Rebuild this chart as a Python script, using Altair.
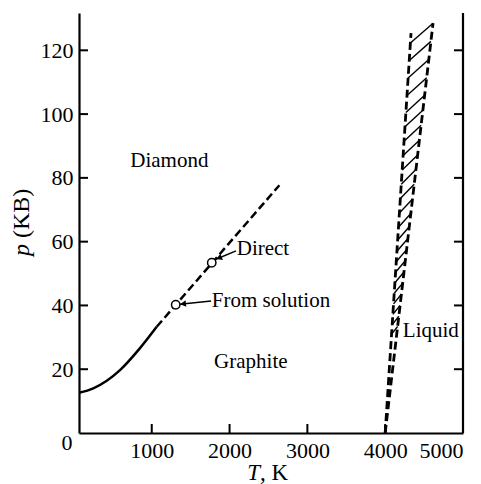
import altair as alt
import numpy as np
import pandas as pd

W, H = 384, 420
FONT = "Liberation Serif"
T_DOMAIN = [65, 5000]
P_DOMAIN = [0, 131.7]

# graphite/diamond boundary
solid_T = [65, 249, 592, 849, 1064]
solid_p = [12.6, 14.0, 19.7, 26.6, 33.3]
dash_T = [1064, 2640]
dash_p = [33.3, 77.7]
# experimental points
pts_T = [1308, 1771]
pts_p = [40.2, 53.4]
# melting boundaries
liqL_T = [4000, 4332]
liqL_p = [0, 125.4]
liqR_T = [4000, 4615]
liqR_p = [0, 128.5]
# hatch strokes (left-end pressure, rise to right boundary)
hatch_p = [122.3, 116.8, 111.3, 105.8, 100.5, 96.0, 91.5, 87.0, 82.5, 78.0, 73.5,
           69.0, 64.5, 60.5, 57.0, 53.7, 50.4, 47.1, 43.8, 40.5, 37.2, 34.0, 31.0]
hatch_rise = [6.2, 6.0, 5.8, 5.6, 5.4, 5.2, 5.0, 4.8, 4.7, 4.6, 4.5,
              4.4, 4.3, 4.2, 4.0, 3.8, 3.6, 3.4, 3.2, 3.0, 2.8, 2.6, 2.4]
# region labels
reg_text = ["Diamond", "Graphite", "Liquid"]
reg_T = [1226, 2273, 4587]
reg_p = [83.5, 20.3, 30.2]
# annotations
ann_text = ["Direct", "From solution"]
ann_T = [2092, 1771]
ann_p = [55.8, 39.6]
arr_tail_T = [2083, 1762]
arr_tail_p = [57.1, 41.4]
arr_tip_T = [1826, 1363]
arr_tip_p = [54.5, 40.4]
arr_head_T = [1864, 1402]
arr_head_p = [54.9, 40.5]
arr_angle = [338, 354]
# ticks
x_ticks = [1000, 2000, 3000, 4000, 5000]
y_ticks = [20, 40, 60, 80, 100, 120]

xs = alt.Scale(domain=T_DOMAIN, nice=False, zero=False)
ys = alt.Scale(domain=P_DOMAIN, nice=False, zero=False)
x_axis = alt.Axis(values=x_ticks, title=None, ticks=False, labelPadding=7,
                  labelFont=FONT, labelFontSize=22, labelColor="black",
                  domainColor="black", domainWidth=2.2, grid=False, format="d")
y_axis = alt.Axis(values=y_ticks, title=None, ticks=False, labelPadding=6,
                  labelFont=FONT, labelFontSize=22, labelColor="black",
                  domainColor="black", domainWidth=2.2, grid=False, format="d")


def X(f):
    return alt.X(f, type="quantitative", scale=xs, axis=x_axis)


def Y(f):
    return alt.Y(f, type="quantitative", scale=ys, axis=y_axis)


solid_df = pd.DataFrame({"T": solid_T, "p": solid_p})
dash_df = pd.DataFrame({"T": dash_T, "p": dash_p})
pts_df = pd.DataFrame({"T": pts_T, "p": pts_p})
liq_df = pd.DataFrame({"T": liqL_T + liqR_T, "p": liqL_p + liqR_p,
                       "side": ["L"] * 2 + ["R"] * 2})
hp = np.array(hatch_p)
hr = hp + np.array(hatch_rise)
hatch_df = pd.DataFrame({
    "T1": np.interp(hp, liqL_p, liqL_T), "p1": hp,
    "T2": np.interp(hr, liqR_p, liqR_T), "p2": hr,
})
reg_df = pd.DataFrame({"t": reg_text, "T": reg_T, "p": reg_p})
ann_df = pd.DataFrame({"t": ann_text, "T": ann_T, "p": ann_p})
arr_df = pd.DataFrame({"T1": arr_tail_T, "p1": arr_tail_p, "T2": arr_tip_T, "p2": arr_tip_p})
head_df = pd.DataFrame({"T": arr_head_T, "p": arr_head_p, "a": arr_angle})
xt_df = pd.DataFrame({"T": x_ticks})
yt_df = pd.DataFrame({"p": y_ticks})

solid = alt.Chart(solid_df).mark_line(color="black", strokeWidth=2.5, interpolate="monotone").encode(
    x=X("T"), y=Y("p"))
dashed = alt.Chart(dash_df).mark_line(color="black", strokeWidth=2.5, strokeDash=[8, 4]).encode(
    x=X("T"), y=Y("p"))
liq = alt.Chart(liq_df).mark_line(color="black", strokeWidth=2.8, strokeDash=[8, 4]).encode(
    x=X("T"), y=Y("p"), detail="side:N")
hatch = alt.Chart(hatch_df).mark_rule(color="black", strokeWidth=1.4).encode(
    x=X("T1"), y=Y("p1"), x2="T2", y2="p2")
arrows = alt.Chart(arr_df).mark_rule(color="black", strokeWidth=1.5).encode(
    x=X("T1"), y=Y("p1"), x2="T2", y2="p2")
heads = alt.Chart(head_df).mark_point(shape="triangle-left", filled=True, color="black",
                                      size=45, opacity=1).encode(
    x=X("T"), y=Y("p"), angle=alt.Angle("a:Q", scale=None))
pts = alt.Chart(pts_df).mark_point(shape="circle", filled=True, fill="white", stroke="black",
                                   strokeWidth=1.5, size=70, opacity=1).encode(
    x=X("T"), y=Y("p"))
regs = alt.Chart(reg_df).mark_text(font=FONT, fontSize=21, color="black", align="center",
                                   baseline="alphabetic").encode(
    x=X("T"), y=Y("p"), text="t:N")
anns = alt.Chart(ann_df).mark_text(font=FONT, fontSize=21, color="black", align="left",
                                   baseline="alphabetic").encode(
    x=X("T"), y=Y("p"), text="t:N")

# inward ticks and right frame line
xt = alt.Chart(xt_df).mark_rule(color="black", strokeWidth=2).encode(
    x=X("T"), y=alt.value(H - 9), y2=alt.value(H))
ytl = alt.Chart(yt_df).mark_rule(color="black", strokeWidth=2).encode(
    y=Y("p"), x=alt.value(0), x2=alt.value(9))
ytr = alt.Chart(yt_df).mark_rule(color="black", strokeWidth=2).encode(
    y=Y("p"), x=alt.value(W - 9), x2=alt.value(W))
frame = alt.Chart(pd.DataFrame({"k": [0]})).mark_rule(color="black", strokeWidth=2.2).encode(
    x=alt.value(W), y=alt.value(0), y2=alt.value(H))

# corner zero and axis titles
zero = alt.Chart(pd.DataFrame({"t": ["0"]})).mark_text(
    font=FONT, fontSize=22, color="black", align="center", baseline="middle").encode(
    x=alt.value(-12), y=alt.value(430), text="t:N")
xt_T = alt.Chart(pd.DataFrame({"t": ["T"]})).mark_text(
    font=FONT, fontSize=23, fontStyle="italic", color="black", align="right",
    baseline="alphabetic").encode(x=alt.value(181), y=alt.value(467), text="t:N")
xt_K = alt.Chart(pd.DataFrame({"t": [", K"]})).mark_text(
    font=FONT, fontSize=23, color="black", align="left",
    baseline="alphabetic").encode(x=alt.value(181), y=alt.value(467), text="t:N")
yt_p = alt.Chart(pd.DataFrame({"t": ["p"]})).mark_text(
    font=FONT, fontSize=24, fontStyle="italic", color="black", align="right", angle=270,
    baseline="alphabetic").encode(x=alt.value(-50), y=alt.value(231), text="t:N")
yt_KB = alt.Chart(pd.DataFrame({"t": ["(KB)"]})).mark_text(
    font=FONT, fontSize=24, color="black", align="left", angle=270,
    baseline="alphabetic").encode(x=alt.value(-50), y=alt.value(225), text="t:N")

chart = alt.layer(
    solid, dashed, liq, hatch, arrows, heads, pts, regs, anns,
    xt, ytl, ytr, frame, zero, xt_T, xt_K, yt_p, yt_KB
).properties(
    width=W, height=H,
    autosize=alt.AutoSizeParams(type="none"),
    padding={"left": 79, "top": 13, "right": 18, "bottom": 51},
    background="white",
).configure_view(stroke=None)

chart.save("out.html", embed_options={"renderer": "svg", "actions": False})
